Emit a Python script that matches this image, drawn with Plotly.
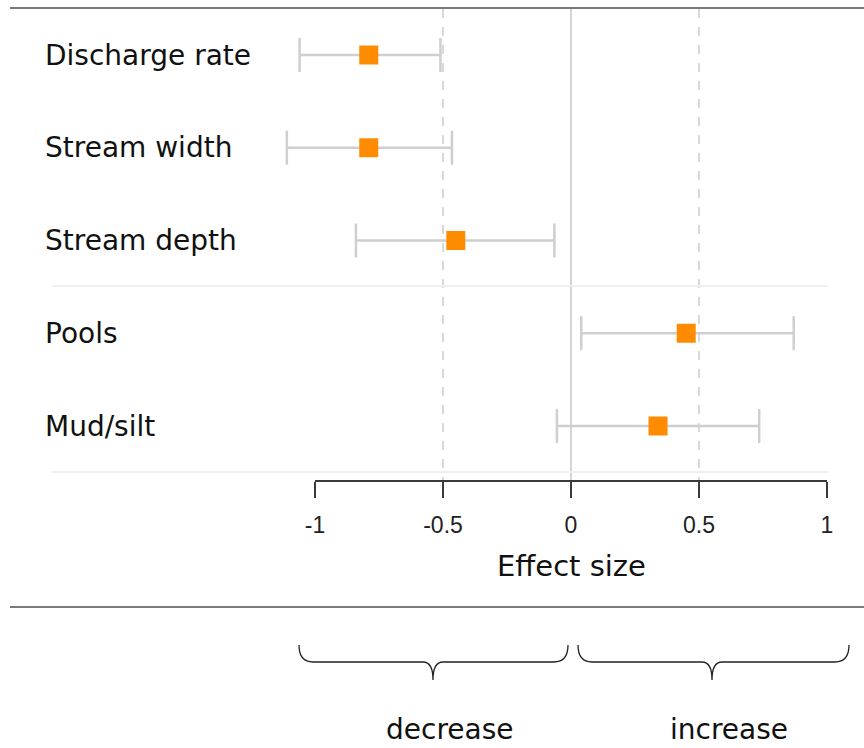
import plotly.graph_objects as go

# ---- data ----
categories = ["Discharge rate", "Stream width", "Stream depth", "Pools", "Mud/silt"]
effect = [-0.79, -0.79, -0.45, 0.45, 0.34]
ci_low = [-1.06, -1.11, -0.84, 0.04, -0.055]
ci_high = [-0.51, -0.465, -0.065, 0.87, 0.735]
tick_vals = [-1, -0.5, 0, 0.5, 1]
tick_text = ["-1", "-0.5", "0", "0.5", "1"]
ref_lines = [-0.5, 0.5]

W, H = 864, 748
X0PX, XSCALE = 571.0, 256.0   # pixel of x=0, pixels per unit
Y0PX, YSTEP = 55.0, 92.75      # pixel of first row, pixels per row

def px2x(px):
    return (px - X0PX) / XSCALE

def pxp(px):
    return px / W

def pyp(py):
    return 1 - py / H

ypos = list(range(len(categories)))
err_plus = [h - e for h, e in zip(ci_high, effect)]
err_minus = [e - l for e, l in zip(effect, ci_low)]

LABEL_FONT = "DejaVu Sans, Verdana, sans-serif"

fig = go.Figure()
fig.add_trace(go.Scatter(
    x=effect, y=ypos, mode="markers",
    marker=dict(symbol="square", size=19, color="#ff8c00", line=dict(width=0)),
    error_x=dict(type="data", symmetric=False, array=err_plus, arrayminus=err_minus,
                 color="#cfcfcf", thickness=2.5, width=17),
    showlegend=False, hoverinfo="skip",
))

shapes = []
axis_y = pyp(481)
# top and bottom dark rules
for py in (8, 607):
    shapes.append(dict(type="line", xref="paper", yref="paper",
                       x0=pxp(10), x1=pxp(864), y0=pyp(py), y1=pyp(py),
                       line=dict(color="#7a7a7a", width=2)))
# faint separators
for py in (286, 472):
    shapes.append(dict(type="line", xref="paper", yref="paper",
                       x0=pxp(52), x1=pxp(828), y0=pyp(py), y1=pyp(py),
                       line=dict(color="#efefef", width=2)))
# zero line
shapes.append(dict(type="line", xref="x", yref="paper", x0=0, x1=0,
                   y0=pyp(9), y1=axis_y, line=dict(color="#d4d4d4", width=2), layer="below"))
# dashed reference lines
for v in ref_lines:
    shapes.append(dict(type="line", xref="x", yref="paper", x0=v, x1=v,
                       y0=pyp(9), y1=axis_y, line=dict(color="#d8d8d8", width=2, dash="dash"),
                       layer="below"))
# axis line
shapes.append(dict(type="line", xref="x", yref="paper", x0=tick_vals[0], x1=tick_vals[-1],
                   y0=axis_y, y1=axis_y, line=dict(color="#3a3a3a", width=2)))

def brace(xl, xr, xm, ytop, yh, ytip):
    pts = (f"M {pxp(xl)},{pyp(ytop)} "
           f"Q {pxp(xl)},{pyp(yh)} {pxp(xl+14)},{pyp(yh)} "
           f"L {pxp(xm-10)},{pyp(yh)} "
           f"Q {pxp(xm)},{pyp(yh)} {pxp(xm)},{pyp(ytip)} "
           f"Q {pxp(xm)},{pyp(yh)} {pxp(xm+10)},{pyp(yh)} "
           f"L {pxp(xr-14)},{pyp(yh)} "
           f"Q {pxp(xr)},{pyp(yh)} {pxp(xr)},{pyp(ytop)}")
    return dict(type="path", xref="paper", yref="paper", path=pts,
                line=dict(color="#222222", width=1.3))

shapes.append(brace(299, 568, 433, 645, 662, 680))
shapes.append(brace(578, 849, 712, 645, 662, 680))

annotations = []
for cat, yi in zip(categories, ypos):
    annotations.append(dict(text=cat, xref="paper", yref="y", x=pxp(43), y=yi,
                            xanchor="left", yanchor="middle", showarrow=False,
                            font=dict(family=LABEL_FONT, size=28, color="#111111")))
annotations.append(dict(text="Effect size", xref="x", yref="paper", x=0, y=pyp(566),
                        xanchor="center", yanchor="middle", showarrow=False,
                        font=dict(family=LABEL_FONT, size=29, color="#111111")))
annotations.append(dict(text="decrease", xref="paper", yref="paper", x=pxp(450), y=pyp(729),
                        xanchor="center", yanchor="middle", showarrow=False,
                        font=dict(family=LABEL_FONT, size=28, color="#111111")))
annotations.append(dict(text="increase", xref="paper", yref="paper", x=pxp(729), y=pyp(729),
                        xanchor="center", yanchor="middle", showarrow=False,
                        font=dict(family=LABEL_FONT, size=28, color="#111111")))

fig.update_layout(
    width=W, height=H,
    margin=dict(l=0, r=0, t=0, b=0),
    paper_bgcolor="white", plot_bgcolor="white",
    xaxis=dict(range=[px2x(0), px2x(W)], anchor="free", position=axis_y,
               showgrid=False, zeroline=False, showline=False,
               tickmode="array", tickvals=tick_vals, ticktext=tick_text,
               ticks="outside", ticklen=16, tickwidth=2, tickcolor="#3a3a3a",
               ticklabelstandoff=7,
               tickfont=dict(family="Liberation Sans, Arial, sans-serif", size=23, color="#222222")),
    yaxis=dict(range=[(H - Y0PX) / YSTEP, -Y0PX / YSTEP], domain=[0, 1],
               showgrid=False, zeroline=False, showline=False, showticklabels=False, ticks=""),
    shapes=shapes, annotations=annotations,
)

fig.write_html("out.html")
